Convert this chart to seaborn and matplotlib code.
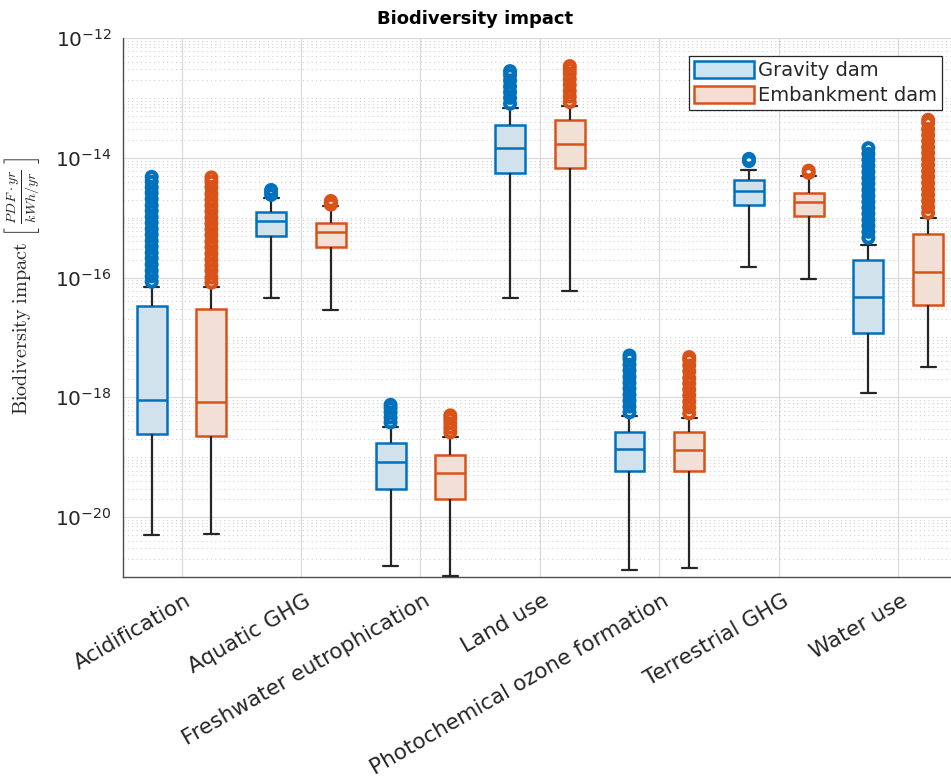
import numpy as np
import pandas as pd
import matplotlib
matplotlib.use("Agg")
import matplotlib.pyplot as plt
from matplotlib.patches import Patch
from matplotlib.ticker import (FixedLocator, LogLocator, LogFormatterSciNotation,
                               NullLocator, NullFormatter)
import matplotlib.transforms as mtransforms
import seaborn as sns

categories = ["Acidification", "Aquatic GHG", "Freshwater eutrophication", "Land use",
              "Photochemical ozone formation", "Terrestrial GHG", "Water use"]
dams = ["Gravity dam", "Embankment dam"]

# five-number summaries (whisker low, q1, median, q3, whisker high)
grav_low  = [5e-21, 4.5e-17, 1.5e-21, 4.5e-17, 1.3e-21, 1.5e-16, 1.17e-18]
grav_q1   = [2.4e-19, 5e-16, 3e-20, 5.6e-15, 6e-20, 1.6e-15, 1.2e-17]
grav_med  = [8.9e-19, 8.9e-16, 8.3e-20, 1.47e-14, 1.35e-19, 2.8e-15, 4.7e-17]
grav_q3   = [3.3e-17, 1.26e-15, 1.7e-19, 3.5e-14, 2.6e-19, 4.2e-15, 2e-16]
grav_high = [7e-17, 2.1e-15, 3.2e-19, 6.8e-14, 4.8e-19, 6.3e-15, 3.5e-16]

emb_low  = [5.2e-21, 2.9e-17, 1.05e-21, 6e-17, 1.4e-21, 9.6e-17, 3.2e-18]
emb_q1   = [2.3e-19, 3.3e-16, 2e-20, 6.8e-15, 5.9e-20, 1.05e-15, 3.5e-17]
emb_med  = [8.3e-19, 5.8e-16, 5.4e-20, 1.7e-14, 1.3e-19, 1.85e-15, 1.26e-16]
emb_q3   = [3.0e-17, 8.3e-16, 1.1e-19, 4.3e-14, 2.6e-19, 2.6e-15, 5.4e-16]
emb_high = [7e-17, 1.55e-15, 2.2e-19, 7.2e-14, 4.6e-19, 5e-15, 1e-15]

# outliers
grav_out = [
    [8.5e-17, 1.05e-16, 1.3e-16, 1.65e-16, 2.1e-16, 2.6e-16, 3.3e-16, 4.1e-16, 5.2e-16, 6.5e-16,
     8.2e-16, 1.03e-15, 1.3e-15, 1.6e-15, 2.05e-15, 2.6e-15, 3.2e-15, 4.0e-15, 4.8e-15],
    [2.4e-15, 2.7e-15, 2.9e-15],
    [3.8e-19, 4.6e-19, 5.6e-19, 6.6e-19, 7.5e-19],
    [8e-14, 1e-13, 1.25e-13, 1.55e-13, 1.95e-13, 2.4e-13, 2.8e-13],
    [5.6e-19, 7e-19, 8.8e-19, 1.1e-18, 1.4e-18, 1.75e-18, 2.2e-18, 2.8e-18, 3.5e-18, 4.4e-18, 5e-18],
    [8.8e-15, 9.6e-15],
    [4.6e-16, 5.8e-16, 7.3e-16, 9.2e-16, 1.16e-15, 1.46e-15, 1.84e-15, 2.3e-15, 2.9e-15, 3.7e-15,
     4.6e-15, 5.8e-15, 7.3e-15, 9.2e-15, 1.16e-14, 1.45e-14],
]
emb_out = [
    [8.2e-17, 1.0e-16, 1.3e-16, 1.6e-16, 2.0e-16, 2.5e-16, 3.2e-16, 4.0e-16, 5.1e-16, 6.4e-16,
     8.0e-16, 1.0e-15, 1.28e-15, 1.6e-15, 2.0e-15, 2.5e-15, 3.2e-15, 4.0e-15, 4.7e-15],
    [1.65e-15, 1.8e-15, 1.9e-15],
    [2.6e-19, 3.1e-19, 3.7e-19, 4.4e-19, 5.0e-19],
    [8.5e-14, 1.05e-13, 1.3e-13, 1.65e-13, 2.05e-13, 2.55e-13, 3.0e-13, 3.4e-13],
    [5.4e-19, 6.8e-19, 8.5e-19, 1.07e-18, 1.35e-18, 1.7e-18, 2.1e-18, 2.7e-18, 3.4e-18, 4.2e-18, 4.7e-18],
    [5.6e-15, 6.1e-15],
    [1.2e-15, 1.5e-15, 1.9e-15, 2.4e-15, 3e-15, 3.8e-15, 4.8e-15, 6e-15, 7.6e-15, 9.5e-15,
     1.2e-14, 1.5e-14, 1.9e-14, 2.4e-14, 3e-14, 3.8e-14, 4.3e-14],
]

ytick_vals = [1e-20, 1e-18, 1e-16, 1e-14, 1e-12]

BLUE = "#0072BD"
ORANGE = "#D95319"
BLUE_L = "#CCE3F2"
ORANGE_L = "#F7DDD1"
DARK = "#262626"

sns.set_style("white")
plt.rcParams["font.family"] = ["DejaVu Sans"]
plt.rcParams["mathtext.fontset"] = "cm"

rows = []
summ = {dams[0]: (grav_low, grav_q1, grav_med, grav_q3, grav_high),
        dams[1]: (emb_low, emb_q1, emb_med, emb_q3, emb_high)}
for d in dams:
    arrs = summ[d]
    for i, c in enumerate(categories):
        for a in arrs:
            rows.append({"category": c, "dam": d, "value": a[i]})
df = pd.DataFrame(rows)

fig = plt.figure(figsize=(9.51, 7.80), dpi=100)
ax = fig.add_axes([123 / 951, 1 - 577 / 780, 835 / 951, 539 / 780])

sns.boxplot(data=df, x="category", y="value", hue="dam", order=categories, hue_order=dams,
            palette={dams[0]: BLUE_L, dams[1]: ORANGE_L}, log_scale=True,
            whis=(0, 100), showfliers=False, width=1.0, gap=0.5, linewidth=1.6,
            linecolor=DARK, ax=ax, legend=False,
            whiskerprops={"color": DARK, "linewidth": 1.6},
            capprops={"color": DARK, "linewidth": 1.6},
            zorder=3)

# recolor box edges and medians by series
def _close(c1, c2):
    return np.allclose(np.array(c1[:3]), np.array(matplotlib.colors.to_rgb(c2)), atol=0.02)

for cont in ax.containers:
    boxes = getattr(cont, "boxes", [])
    meds = getattr(cont, "medians", [])
    for b, m in zip(boxes, meds):
        fc = b.get_facecolor()
        col = BLUE if _close(fc, BLUE_L) else ORANGE
        b.set_edgecolor(col)
        b.set_linewidth(1.8)
        m.set_color(col)
        m.set_linewidth(1.8)

# outliers
offsets = {dams[0]: -0.25, dams[1]: 0.25}
colors = {dams[0]: BLUE, dams[1]: ORANGE}
for d, outs in ((dams[0], grav_out), (dams[1], emb_out)):
    for i, vals in enumerate(outs):
        xs = np.full(len(vals), i + offsets[d])
        ax.scatter(xs, vals, s=50, facecolors="none", edgecolors=colors[d],
                   linewidths=3.0, zorder=4, clip_on=False)

ax.set_yscale("log")
ax.set_ylim(1e-21, 1e-12)
ax.set_xlim(-0.49, 6.5)
ax.yaxis.set_major_locator(FixedLocator(ytick_vals))
ax.yaxis.set_major_formatter(LogFormatterSciNotation())
ax.yaxis.set_minor_locator(LogLocator(base=10, subs=np.arange(1, 10), numticks=200))
ax.yaxis.set_minor_formatter(NullFormatter())
ax.xaxis.set_minor_locator(NullLocator())

ax.grid(True, which="major", color="#dadada", linewidth=0.9, linestyle="-", zorder=0)
ax.grid(True, which="minor", axis="y", color="#c8c8c8", linewidth=0.7,
        linestyle=(0, (1, 3.5)), zorder=0)
ax.set_axisbelow(True)

for s in ["top", "right"]:
    ax.spines[s].set_visible(False)
for s in ["left", "bottom"]:
    ax.spines[s].set_color("#4d4d4d")
    ax.spines[s].set_linewidth(1.0)

ax.tick_params(axis="y", which="major", direction="in", length=6, width=0.8,
               colors=DARK, labelsize=14.5, pad=8)
ax.tick_params(axis="y", which="minor", direction="in", length=3, width=0.6, colors=DARK)
ax.tick_params(axis="x", which="major", direction="in", length=7, width=0.8,
               colors=DARK, labelsize=15.5, pad=10)

ax.set_xlabel("")
ax.set_ylabel(r"$\mathrm{Biodiversity\ impact}\ \left[\;\frac{PDF\cdot yr}{kWh/yr}\;\right]$",
              fontsize=14.5, color=DARK)
ax.yaxis.set_label_coords(-0.097, 0.54)

offset = mtransforms.ScaledTranslation(3 / 100, 0, fig.dpi_scale_trans)
for lab in ax.get_xticklabels():
    lab.set_rotation(30)
    lab.set_ha("right")
    lab.set_va("top")
    lab.set_rotation_mode("anchor")
    lab.set_transform(lab.get_transform() + offset)

fig.text(0.5, 1 - 19 / 780, "Biodiversity impact", ha="center", va="center",
         fontsize=13, fontweight="bold", color="black")

handles = [Patch(facecolor=BLUE_L, edgecolor=BLUE, linewidth=1.8, label=dams[0]),
           Patch(facecolor=ORANGE_L, edgecolor=ORANGE, linewidth=1.8, label=dams[1])]
leg = ax.legend(handles=handles, loc="upper left", bbox_to_anchor=(689 / 951, 1 - 56 / 780),
                bbox_transform=fig.transFigure, fontsize=14, frameon=True, fancybox=False,
                framealpha=1, edgecolor=DARK, handlelength=3.1, handleheight=0.95,
                borderpad=0.25, labelspacing=0.3, handletextpad=0.2, borderaxespad=0)
leg.get_frame().set_linewidth(0.9)
for t in leg.get_texts():
    t.set_color(DARK)

fig.savefig("out.png", dpi=100)
